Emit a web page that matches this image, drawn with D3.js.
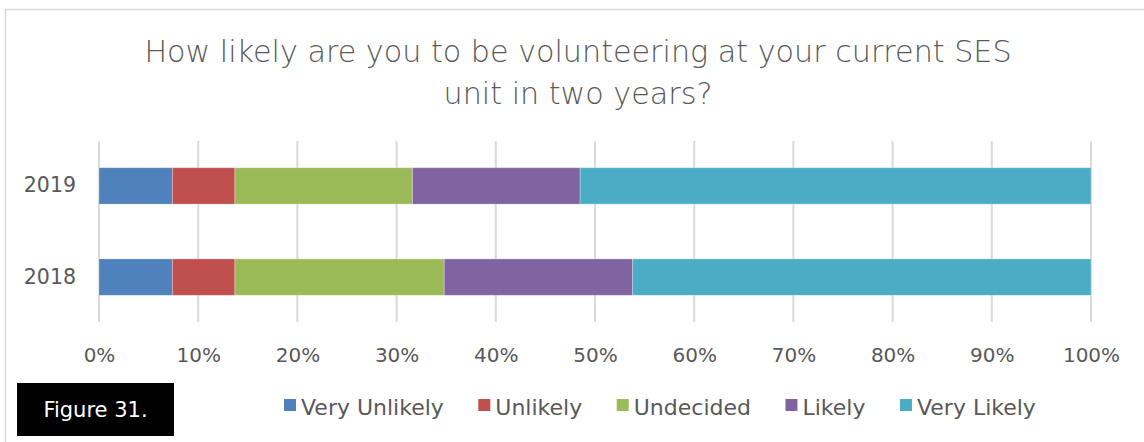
<!DOCTYPE html>
<html>
<head>
<meta charset="utf-8">
<script src="https://cdn.jsdelivr.net/npm/d3@7"></script>
<style>
  html, body { margin: 0; padding: 0; background: #fff; }
  svg { display: block; font-family: "DejaVu Sans", sans-serif; }
</style>
</head>
<body>
<svg id="chart" width="1144" height="442"></svg>
<script>
// Survey responses (% of respondents) per year
const years = ["2019", "2018"];
const categories = ["Very Unlikely", "Unlikely", "Undecided", "Likely", "Very Likely"];
const veryUnlikely = [7.4, 7.4];
const unlikely     = [6.3, 6.3];
const undecided    = [17.9, 21.1];
const likely       = [16.9, 19.0];
const veryLikely   = [51.5, 46.2];
const tickValues = [0, 10, 20, 30, 40, 50, 60, 70, 80, 90, 100];
const colors = ["#4F81BD", "#C0504D", "#9BBB59", "#8064A2", "#4BACC6"];

const seriesValues = [veryUnlikely, unlikely, undecided, likely, veryLikely];
const rows = years.map((yr, i) => {
  const r = { year: yr };
  categories.forEach((c, k) => { r[c] = seriesValues[k][i]; });
  return r;
});

const svg = d3.select("#chart");
const textColor = "#595959";

// outer chart frame
svg.append("rect")
  .attr("x", 5.5).attr("y", 9.5)
  .attr("width", 1150).attr("height", 450)
  .attr("fill", "none").attr("stroke", "#d9d9d9").attr("stroke-width", 1.5);

// title
const title = svg.append("text")
  .attr("text-anchor", "middle")
  .attr("fill", textColor)
  .attr("font-size", 30.2)
  .attr("font-weight", 200);
title.append("tspan").attr("x", 578).attr("y", 62)
  .text("How likely are you to be volunteering at your current SES");
title.append("tspan").attr("x", 578).attr("y", 104)
  .text("unit in two years?");

const x = d3.scaleLinear().domain([0, 100]).range([99, 1091]);
const y = d3.scaleBand().domain(years).range([141, 322])
  .paddingInner(0.601).paddingOuter(0.293);

// vertical gridlines
svg.append("g")
  .selectAll("line")
  .data(tickValues)
  .join("line")
  .attr("x1", d => x(d)).attr("x2", d => x(d))
  .attr("y1", 141).attr("y2", 322)
  .attr("stroke", "#d9d9d9").attr("stroke-width", 2);

// stacked bars
const stack = d3.stack().keys(categories)(rows);
svg.append("g")
  .selectAll("g")
  .data(stack)
  .join("g")
  .attr("fill", (d, i) => colors[i])
  .selectAll("rect")
  .data(d => d)
  .join("rect")
  .attr("x", d => x(d[0]))
  .attr("width", d => x(d[1]) - x(d[0]))
  .attr("y", d => y(d.data.year))
  .attr("height", y.bandwidth())
  .attr("stroke", "rgba(255,255,255,0.35)")
  .attr("stroke-width", 0.8);

// x axis labels
const xAxis = svg.append("g")
  .attr("transform", "translate(0,322)")
  .call(d3.axisBottom(x).tickValues(tickValues).tickFormat(d => d + "%").tickSize(0).tickPadding(26));
xAxis.select(".domain").remove();
xAxis.selectAll("text")
  .attr("fill", textColor)
  .attr("font-size", 20)
  .attr("font-family", "'DejaVu Sans', sans-serif");

// y axis labels
const yAxis = svg.append("g")
  .attr("transform", "translate(99,0)")
  .call(d3.axisLeft(y).tickSize(0).tickPadding(23));
yAxis.select(".domain").remove();
yAxis.selectAll("text")
  .attr("fill", textColor)
  .attr("font-size", 20.5)
  .attr("font-family", "'DejaVu Sans', sans-serif");

// legend, laid out left to right
const legend = svg.append("g");
let lx = 284;
categories.forEach((c, i) => {
  const g = legend.append("g");
  g.append("rect")
    .attr("x", lx).attr("y", 399)
    .attr("width", 12).attr("height", 12)
    .attr("fill", colors[i]);
  const t = g.append("text")
    .attr("x", lx + 17).attr("y", 415)
    .attr("fill", textColor)
    .attr("font-size", 22)
    .text(c);
  lx += 17 + t.node().getComputedTextLength() + 34.5;
});

// figure tag
svg.append("rect")
  .attr("x", 17).attr("y", 383)
  .attr("width", 157).attr("height", 53)
  .attr("fill", "#000");
svg.append("text")
  .attr("x", 95.5).attr("y", 417)
  .attr("text-anchor", "middle")
  .attr("fill", "#fff")
  .attr("font-size", 21)
  .text("Figure 31.");
</script>
</body>
</html>
